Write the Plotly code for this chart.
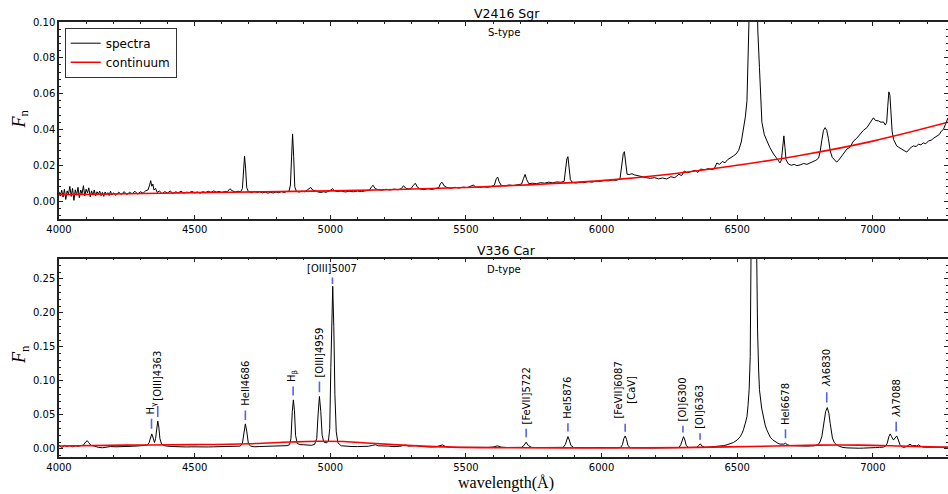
import plotly.graph_objects as go

# ---------------- data ----------------
# V2416 Sgr spectrum: (wavelength [A], normalised flux)
sgr_points = [
    (4000, 0.0052), (4005, 0.0028), (4010, 0.0061), (4015, 0.0022), (4020, 0.0066), (4025, 0.0009),
    (4030, 0.0057), (4035, 0.0038), (4040, 0.0082), (4045, 0.0026), (4050, 0.0071), (4055, 0.0004),
    (4060, 0.0063), (4065, 0.0033), (4070, 0.0077), (4075, 0.0019), (4080, 0.0062), (4085, 0.0041),
    (4090, 0.0086), (4095, 0.0029), (4100, 0.0066), (4105, 0.0046), (4110, 0.0074), (4115, 0.0024),
    (4120, 0.0057), (4125, 0.0033), (4130, 0.0062), (4135, 0.0028), (4140, 0.0052), (4145, 0.0039),
    (4150, 0.0056), (4155, 0.0030), (4160, 0.0049), (4165, 0.0026), (4170, 0.0051), (4175, 0.0036),
    (4180, 0.0047), (4185, 0.0031), (4190, 0.0055), (4195, 0.0034), (4200, 0.0046), (4210, 0.0032),
    (4220, 0.0050), (4230, 0.0037), (4240, 0.0053), (4250, 0.0036), (4260, 0.0049), (4270, 0.0041),
    (4280, 0.0055), (4290, 0.0039), (4300, 0.0052), (4310, 0.0044), (4320, 0.0058), (4328, 0.0062),
    (4334, 0.0090), (4338, 0.0114), (4342, 0.0083), (4346, 0.0095), (4350, 0.0062), (4356, 0.0071),
    (4362, 0.0048), (4370, 0.0057), (4380, 0.0041), (4390, 0.0053), (4400, 0.0045), (4410, 0.0056),
    (4420, 0.0043), (4430, 0.0052), (4440, 0.0046), (4450, 0.0055), (4460, 0.0044), (4470, 0.0050),
    (4480, 0.0047), (4490, 0.0054), (4500, 0.0046), (4510, 0.0051), (4520, 0.0044), (4530, 0.0053),
    (4540, 0.0047), (4550, 0.0055), (4560, 0.0049), (4570, 0.0057), (4580, 0.0050), (4590, 0.0054),
    (4600, 0.0048), (4610, 0.0053), (4620, 0.0052), (4630, 0.0069), (4638, 0.0058), (4650, 0.0051),
    (4660, 0.0055), (4670, 0.0053), (4676, 0.0070), (4680, 0.0170), (4684, 0.0252), (4688, 0.0180),
    (4692, 0.0075), (4698, 0.0053), (4710, 0.0047), (4720, 0.0054), (4730, 0.0048), (4740, 0.0052),
    (4750, 0.0046), (4760, 0.0050), (4770, 0.0044), (4780, 0.0049), (4790, 0.0045), (4800, 0.0051),
    (4810, 0.0047), (4820, 0.0053), (4830, 0.0048), (4840, 0.0054), (4848, 0.0055), (4853, 0.0090),
    (4857, 0.0300), (4861, 0.0375), (4865, 0.0250), (4869, 0.0080), (4875, 0.0055), (4885, 0.0050),
    (4895, 0.0056), (4905, 0.0052), (4915, 0.0062), (4922, 0.0072), (4928, 0.0076), (4935, 0.0062),
    (4945, 0.0055), (4955, 0.0051), (4965, 0.0048), (4975, 0.0052), (4985, 0.0049), (4995, 0.0055),
    (5003, 0.0062), (5008, 0.0070), (5015, 0.0058), (5025, 0.0053), (5040, 0.0056), (5055, 0.0051),
    (5070, 0.0055), (5085, 0.0052), (5100, 0.0056), (5115, 0.0053), (5130, 0.0058), (5145, 0.0062),
    (5152, 0.0080), (5158, 0.0088), (5165, 0.0070), (5175, 0.0064), (5190, 0.0061), (5205, 0.0066),
    (5220, 0.0062), (5235, 0.0067), (5250, 0.0063), (5262, 0.0070), (5270, 0.0086), (5278, 0.0072),
    (5290, 0.0067), (5300, 0.0074), (5308, 0.0092), (5314, 0.0099), (5320, 0.0080), (5330, 0.0068),
    (5345, 0.0064), (5360, 0.0069), (5375, 0.0065), (5390, 0.0070), (5400, 0.0075), (5406, 0.0098),
    (5412, 0.0105), (5420, 0.0085), (5430, 0.0076), (5445, 0.0072), (5460, 0.0077), (5475, 0.0073),
    (5490, 0.0078), (5505, 0.0075), (5520, 0.0085), (5528, 0.0090), (5535, 0.0079), (5550, 0.0076),
    (5565, 0.0080), (5580, 0.0077), (5595, 0.0082), (5605, 0.0090), (5612, 0.0125), (5617, 0.0134),
    (5622, 0.0110), (5630, 0.0088), (5645, 0.0085), (5660, 0.0090), (5675, 0.0087), (5690, 0.0092),
    (5705, 0.0095), (5712, 0.0125), (5718, 0.0149), (5724, 0.0120), (5732, 0.0097), (5745, 0.0100),
    (5760, 0.0097), (5775, 0.0103), (5790, 0.0100), (5805, 0.0106), (5820, 0.0102), (5835, 0.0107),
    (5850, 0.0105), (5862, 0.0110), (5868, 0.0180), (5872, 0.0235), (5876, 0.0248), (5880, 0.0200),
    (5885, 0.0120), (5892, 0.0105), (5905, 0.0101), (5920, 0.0106), (5935, 0.0103), (5950, 0.0109),
    (5965, 0.0106), (5980, 0.0112), (5995, 0.0110), (6010, 0.0116), (6025, 0.0113), (6040, 0.0118),
    (6055, 0.0116), (6068, 0.0125), (6075, 0.0200), (6080, 0.0265), (6084, 0.0276), (6088, 0.0230),
    (6094, 0.0150), (6102, 0.0148), (6112, 0.0153), (6122, 0.0146), (6135, 0.0141), (6150, 0.0134),
    (6165, 0.0131), (6180, 0.0127), (6195, 0.0131), (6210, 0.0124), (6225, 0.0129), (6240, 0.0123),
    (6255, 0.0136), (6270, 0.0131), (6285, 0.0150), (6295, 0.0142), (6305, 0.0168), (6315, 0.0158),
    (6330, 0.0165), (6345, 0.0172), (6355, 0.0160), (6365, 0.0179), (6380, 0.0175), (6395, 0.0182),
    (6405, 0.0176), (6415, 0.0180), (6425, 0.0213), (6435, 0.0205), (6445, 0.0221), (6455, 0.0214),
    (6465, 0.0232), (6475, 0.0240), (6486, 0.0252), (6495, 0.0262), (6505, 0.0282), (6515, 0.0330),
    (6523, 0.0400), (6530, 0.0470), (6536, 0.0560), (6542, 0.0745), (6548, 0.1020), (6555, 0.1500),
    (6563, 0.2200), (6570, 0.1400), (6576, 0.0950), (6582, 0.0745), (6587, 0.0550), (6591, 0.0440),
    (6600, 0.0370), (6609, 0.0336), (6620, 0.0300), (6634, 0.0263), (6645, 0.0240), (6658, 0.0213),
    (6663, 0.0230), (6668, 0.0330), (6672, 0.0364), (6676, 0.0300), (6680, 0.0230), (6689, 0.0207),
    (6700, 0.0200), (6710, 0.0205), (6720, 0.0198), (6732, 0.0202), (6745, 0.0210), (6757, 0.0205),
    (6769, 0.0213), (6780, 0.0220), (6790, 0.0228), (6800, 0.0240), (6806, 0.0280), (6812, 0.0340),
    (6818, 0.0395), (6824, 0.0410), (6830, 0.0395), (6836, 0.0350), (6843, 0.0280), (6850, 0.0245),
    (6858, 0.0230), (6866, 0.0218), (6874, 0.0228), (6882, 0.0245), (6892, 0.0265), (6904, 0.0290),
    (6915, 0.0300), (6929, 0.0336), (6940, 0.0350), (6954, 0.0375), (6965, 0.0395), (6978, 0.0410),
    (6990, 0.0435), (7002, 0.0465), (7010, 0.0450), (7021, 0.0448), (7030, 0.0440), (7039, 0.0442),
    (7046, 0.0425), (7051, 0.0440), (7055, 0.0530), (7059, 0.0610), (7063, 0.0590), (7067, 0.0480),
    (7071, 0.0390), (7076, 0.0345), (7082, 0.0330), (7088, 0.0308), (7096, 0.0300), (7105, 0.0290),
    (7115, 0.0282), (7125, 0.0274), (7135, 0.0290), (7142, 0.0302), (7150, 0.0308), (7160, 0.0305),
    (7168, 0.0318), (7177, 0.0314), (7186, 0.0325), (7195, 0.0320), (7205, 0.0336), (7215, 0.0340),
    (7225, 0.0352), (7236, 0.0364), (7245, 0.0372), (7252, 0.0390), (7260, 0.0400), (7268, 0.0430),
    (7277, 0.0465),
]
sgr_cont_wave = [4000, 4250, 4500, 4750, 5000, 5250, 5500, 5750, 6000, 6250, 6500, 6750, 7000, 7277]
sgr_cont_flux = [0.0035, 0.0041, 0.0047, 0.0052, 0.0057, 0.0065, 0.0076, 0.0092, 0.0114, 0.0150,
                 0.0200, 0.0260, 0.0335, 0.0440]

# V336 Car spectrum: (wavelength [A], normalised flux)
car_points = [
    (4000, 0.0058), (4010, 0.0018), (4020, 0.0050), (4030, 0.0035), (4040, 0.0048), (4050, 0.0030),
    (4060, 0.0045), (4070, 0.0038), (4080, 0.0046), (4090, 0.0055), (4098, 0.0100), (4104, 0.0120),
    (4110, 0.0090), (4118, 0.0050), (4130, 0.0040), (4145, 0.0022), (4160, 0.0016), (4175, 0.0030),
    (4190, 0.0034), (4210, 0.0030), (4230, 0.0036), (4250, 0.0033), (4270, 0.0038), (4290, 0.0042),
    (4310, 0.0046), (4325, 0.0055), (4332, 0.0090), (4337, 0.0180), (4342, 0.0220), (4347, 0.0160),
    (4352, 0.0093), (4356, 0.0150), (4360, 0.0330), (4364, 0.0410), (4368, 0.0320), (4372, 0.0150),
    (4378, 0.0070), (4390, 0.0045), (4410, 0.0035), (4430, 0.0030), (4450, 0.0032), (4470, 0.0028),
    (4490, 0.0030), (4510, 0.0027), (4530, 0.0031), (4550, 0.0028), (4570, 0.0030), (4590, 0.0033),
    (4610, 0.0030), (4630, 0.0034), (4650, 0.0036), (4668, 0.0040), (4676, 0.0080), (4682, 0.0280),
    (4687, 0.0367), (4692, 0.0260), (4698, 0.0080), (4706, 0.0040), (4720, 0.0030), (4740, 0.0034),
    (4760, 0.0037), (4780, 0.0035), (4800, 0.0040), (4820, 0.0042), (4840, 0.0047), (4850, 0.0060),
    (4855, 0.0150), (4860, 0.0550), (4864, 0.0720), (4868, 0.0560), (4872, 0.0200), (4878, 0.0080),
    (4888, 0.0062), (4900, 0.0060), (4915, 0.0058), (4930, 0.0052), (4942, 0.0065), (4950, 0.0150),
    (4955, 0.0500), (4960, 0.0770), (4965, 0.0550), (4970, 0.0200), (4976, 0.0100), (4985, 0.0088),
    (4993, 0.0110), (4998, 0.0300), (5002, 0.1200), (5006, 0.2200), (5009, 0.2390), (5013, 0.1800),
    (5017, 0.0800), (5022, 0.0250), (5028, 0.0090), (5040, 0.0045), (5060, 0.0036), (5080, 0.0034),
    (5100, 0.0033), (5120, 0.0035), (5140, 0.0038), (5155, 0.0050), (5166, 0.0060), (5178, 0.0045),
    (5195, 0.0038), (5215, 0.0040), (5235, 0.0033), (5255, 0.0036), (5270, 0.0050), (5278, 0.0055),
    (5288, 0.0040), (5305, 0.0042), (5318, 0.0050), (5330, 0.0036), (5350, 0.0029), (5370, 0.0027),
    (5390, 0.0030), (5405, 0.0045), (5414, 0.0058), (5424, 0.0035), (5440, 0.0024), (5460, 0.0022),
    (5480, 0.0024), (5500, 0.0021), (5520, 0.0023), (5540, 0.0020), (5560, 0.0022), (5580, 0.0021),
    (5600, 0.0026), (5616, 0.0044), (5630, 0.0025), (5650, 0.0020), (5670, 0.0021), (5690, 0.0019),
    (5705, 0.0022), (5714, 0.0050), (5722, 0.0098), (5730, 0.0048), (5742, 0.0022), (5760, 0.0019),
    (5780, 0.0020), (5800, 0.0018), (5820, 0.0021), (5840, 0.0019), (5858, 0.0022), (5866, 0.0060),
    (5871, 0.0140), (5876, 0.0180), (5881, 0.0130), (5887, 0.0050), (5897, 0.0020), (5915, 0.0017),
    (5935, 0.0019), (5955, 0.0016), (5975, 0.0018), (5995, 0.0015), (6015, 0.0017), (6035, 0.0015),
    (6055, 0.0016), (6070, 0.0020), (6077, 0.0060), (6082, 0.0150), (6087, 0.0190), (6092, 0.0140),
    (6097, 0.0050), (6106, 0.0015), (6125, 0.0012), (6145, 0.0013), (6165, 0.0011), (6185, 0.0012),
    (6205, 0.0013), (6225, 0.0012), (6245, 0.0014), (6265, 0.0013), (6285, 0.0018), (6292, 0.0060),
    (6297, 0.0140), (6302, 0.0180), (6307, 0.0130), (6312, 0.0050), (6320, 0.0020), (6335, 0.0018),
    (6350, 0.0022), (6358, 0.0050), (6364, 0.0074), (6370, 0.0040), (6380, 0.0024), (6395, 0.0025),
    (6413, 0.0030), (6425, 0.0036), (6437, 0.0040), (6450, 0.0048), (6462, 0.0059), (6475, 0.0075),
    (6486, 0.0093), (6500, 0.0130), (6511, 0.0180), (6518, 0.0230), (6523, 0.0280), (6530, 0.0380),
    (6536, 0.0475), (6540, 0.0640), (6544, 0.0870), (6548, 0.1360), (6552, 0.2000), (6556, 0.3500),
    (6563, 0.9000), (6570, 0.3500), (6573, 0.2300), (6575, 0.1750), (6579, 0.1160), (6582, 0.0870),
    (6590, 0.0600), (6597, 0.0430), (6603, 0.0350), (6609, 0.0280), (6615, 0.0220), (6622, 0.0170),
    (6630, 0.0135), (6640, 0.0103), (6650, 0.0082), (6658, 0.0069), (6666, 0.0065), (6672, 0.0070),
    (6678, 0.0083), (6684, 0.0062), (6695, 0.0048), (6710, 0.0044), (6725, 0.0040), (6740, 0.0043),
    (6755, 0.0040), (6770, 0.0042), (6785, 0.0045), (6798, 0.0060), (6805, 0.0100), (6812, 0.0180),
    (6820, 0.0370), (6826, 0.0550), (6832, 0.0607), (6838, 0.0520), (6843, 0.0370), (6851, 0.0160),
    (6858, 0.0090), (6866, 0.0060), (6878, 0.0035), (6890, 0.0020), (6905, 0.0014), (6920, 0.0010),
    (6935, 0.0012), (6950, 0.0009), (6965, 0.0011), (6978, 0.0010), (6995, 0.0015), (7010, 0.0018),
    (7025, 0.0022), (7039, 0.0025), (7048, 0.0045), (7053, 0.0083), (7059, 0.0180), (7064, 0.0220),
    (7069, 0.0180), (7076, 0.0130), (7082, 0.0160), (7088, 0.0190), (7094, 0.0130), (7100, 0.0060),
    (7107, 0.0030), (7115, 0.0022), (7125, 0.0035), (7132, 0.0060), (7137, 0.0069), (7145, 0.0045),
    (7156, 0.0050), (7162, 0.0040), (7168, 0.0059), (7176, 0.0038), (7186, 0.0025), (7200, 0.0024),
    (7220, 0.0022), (7240, 0.0024), (7260, 0.0022), (7277, 0.0025),
]
car_cont_wave = [4000, 4250, 4500, 4700, 4850, 4950, 5050, 5150, 5300, 5450, 5650, 6000, 6300,
                 6550, 6800, 6950, 7100, 7277]
car_cont_flux = [0.0042, 0.0055, 0.0062, 0.0075, 0.0100, 0.0112, 0.0108, 0.0082, 0.0048, 0.0025,
                 0.0017, 0.0013, 0.0018, 0.0035, 0.0055, 0.0055, 0.0042, 0.0022]

# emission-line identifications in the V336 Car panel
line_labels = ["H<sub>γ</sub>", "[OIII]4363", "HeII4686", "H<sub>β</sub>", "[OIII]4959",
               "[OIII]5007", "[FeVII]5722", "HeI5876", "[FeVII]6087<br>[CaV]", "[OI]6300",
               "[OI]6363", "HeI6678", "<i>λλ</i>6830", "<i>λλ</i>7088"]
line_waves = [4341, 4364, 4687, 4863, 4960, 5008, 5722, 5876, 6087, 6300, 6363, 6678, 6830, 7086]
line_mark_low = [0.0294, 0.0470, 0.0426, 0.0784, 0.0834, 0.2425, 0.0172, 0.0254, 0.0250, 0.0240,
                 0.0132, 0.0157, 0.0680, 0.0254]
line_mark_high = [0.0441, 0.0632, 0.0563, 0.0916, 0.0990, 0.2520, 0.0294, 0.0378, 0.0368, 0.0338,
                  0.0230, 0.0290, 0.0833, 0.0400]
line_label_base = [0.0485, 0.0690, 0.0617, 0.0970, 0.1040, 0.2560, 0.0338, 0.0426, 0.0426, 0.0387,
                   0.0280, 0.0328, 0.0890, 0.0450]
line_label_vertical = [True, True, True, True, True, False, True, True, True, True, True, True,
                       True, True]

x_tick_values = [4000, 4500, 5000, 5500, 6000, 6500, 7000]
top_y_ticks = [0.00, 0.02, 0.04, 0.06, 0.08, 0.10]
bottom_y_ticks = [0.00, 0.05, 0.10, 0.15, 0.20, 0.25]

titles = ["V2416 Sgr", "V336 Car"]
subtitles = ["S-type", "D-type"]

# ---------------- figure ----------------
W, H = 948, 494
L_MARGIN = 59
SANS = "DejaVu Sans"
SERIF = "Liberation Serif"


def px_x(px):
    return (px - L_MARGIN) / (W - L_MARGIN)


def px_y(py):
    return (H - py) / H


fig = go.Figure()

sgr_w = [p[0] for p in sgr_points]
sgr_f = [p[1] for p in sgr_points]
car_w = [p[0] for p in car_points]
car_f = [p[1] for p in car_points]

fig.add_trace(go.Scatter(x=sgr_w, y=sgr_f, mode="lines", name="spectra",
                         line=dict(color="black", width=1), xaxis="x", yaxis="y"))
fig.add_trace(go.Scatter(x=sgr_cont_wave, y=sgr_cont_flux, mode="lines", name="continuum",
                         line=dict(color="red", width=1.6, shape="spline"), xaxis="x", yaxis="y"))
fig.add_trace(go.Scatter(x=car_w, y=car_f, mode="lines", showlegend=False,
                         line=dict(color="black", width=1), xaxis="x2", yaxis="y2"))
fig.add_trace(go.Scatter(x=car_cont_wave, y=car_cont_flux, mode="lines", showlegend=False,
                         line=dict(color="red", width=1.6, shape="spline"), xaxis="x2", yaxis="y2"))

# blue identification marks
mx, my = [], []
for w, lo, hi in zip(line_waves, line_mark_low, line_mark_high):
    mx += [w, w, None]
    my += [lo, hi, None]
fig.add_trace(go.Scatter(x=mx, y=my, mode="lines", showlegend=False,
                         line=dict(color="rgba(40,60,235,0.8)", width=1.6),
                         xaxis="x2", yaxis="y2"))

annotations = []
for lab, w, base, vert in zip(line_labels, line_waves, line_label_base, line_label_vertical):
    annotations.append(dict(x=w, y=base, xref="x2", yref="y2", text=lab, showarrow=False,
                            textangle=-90 if vert else 0, xanchor="center", yanchor="bottom",
                            font=dict(family=SANS, size=10, color="black"), borderpad=0))

# panel titles / subtitles
for title, sub, ty, sy in zip(titles, subtitles, [13.5, 250.5], [32.5, 269.5]):
    annotations.append(dict(x=px_x(506.5), y=px_y(ty), xref="paper", yref="paper", text=title,
                            showarrow=False, xanchor="center", yanchor="middle",
                            font=dict(family=SANS, size=12.5, color="black")))
    annotations.append(dict(x=px_x(504), y=px_y(sy), xref="paper", yref="paper", text=sub,
                            showarrow=False, xanchor="center", yanchor="middle",
                            font=dict(family=SANS, size=10, color="black")))

# y-axis labels and x-axis label
for cy in [119.5, 355]:
    annotations.append(dict(x=px_x(20), y=px_y(cy), xref="paper", yref="paper",
                            text="<i>F</i><sub>n</sub>", textangle=-90, showarrow=False,
                            xanchor="center", yanchor="middle",
                            font=dict(family=SERIF, size=18, color="black")))
annotations.append(dict(x=px_x(505.5), y=px_y(483), xref="paper", yref="paper",
                        text="wavelength(Å)", showarrow=False, xanchor="center", yanchor="middle",
                        font=dict(family=SERIF, size=16, color="black")))

AX_COLOR = "#222222"
common_x = dict(range=[4000, 7277], tickmode="array", tickvals=x_tick_values,
                ticks="inside", ticklen=4, tickwidth=1, tickcolor=AX_COLOR,
                showline=True, linecolor=AX_COLOR, linewidth=1.5, mirror="ticks",
                showgrid=False, zeroline=False,
                tickfont=dict(family=SANS, size=10, color="black"),
                minor=dict(ticks="inside", ticklen=2, tickcolor=AX_COLOR, dtick=100, tick0=4000,
                           showgrid=False))
common_y = dict(ticks="inside", ticklen=4, tickwidth=1, tickcolor=AX_COLOR,
                showline=True, linecolor=AX_COLOR, linewidth=1.5, mirror="ticks",
                showgrid=False, zeroline=False, tickformat=".2f", tickmode="array",
                tickfont=dict(family=SANS, size=10, color="black"))

fig.update_layout(
    width=W, height=H,
    margin=dict(l=L_MARGIN, r=0, t=0, b=0, autoexpand=False),
    paper_bgcolor="white", plot_bgcolor="white",
    xaxis=dict(domain=[0, 1], anchor="y", **common_x),
    yaxis=dict(domain=[px_y(219), px_y(22)], anchor="x", range=[-0.01, 0.10],
               tickvals=top_y_ticks,
               minor=dict(ticks="inside", ticklen=2, tickcolor=AX_COLOR, dtick=0.004, tick0=0,
                          showgrid=False),
               **common_y),
    xaxis2=dict(domain=[0, 1], anchor="y2", **common_x),
    yaxis2=dict(domain=[px_y(457), px_y(258.5)], anchor="x2", range=[-0.012, 0.28],
                tickvals=bottom_y_ticks,
                minor=dict(ticks="inside", ticklen=2, tickcolor=AX_COLOR, dtick=0.01, tick0=0,
                           showgrid=False),
                **common_y),
    showlegend=True,
    legend=dict(x=px_x(64.7), y=px_y(27.7), xanchor="left", yanchor="top",
                bordercolor="#333333", borderwidth=1, bgcolor="white",
                font=dict(family=SANS, size=12, color="black"),
                tracegroupgap=0, itemwidth=30),
    annotations=annotations,
)

fig.write_html("out.html", config={"displayModeBar": False},
               post_script="document.body.style.margin='0px';document.body.style.overflow='hidden';")
